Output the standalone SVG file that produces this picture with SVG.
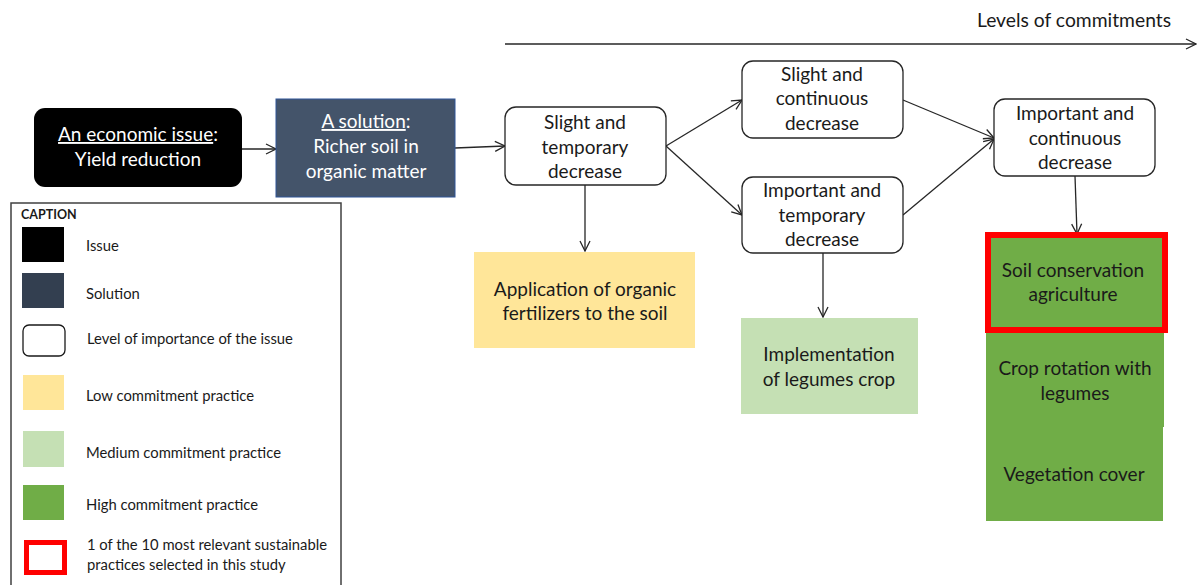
<svg xmlns="http://www.w3.org/2000/svg" width="1197" height="585" viewBox="0 0 1197 585">
  <style>
    text { font-family: Lato, "Open Sans", "Liberation Sans", sans-serif; fill: #1a1a1a; }
    .t { font-size: 19px; text-anchor: middle; }
    .w { fill: #ffffff; }
    .cap { font-size: 14.8px; fill: #1a1a1a; }
    .lvl { fill: #ffffff; stroke: #262626; stroke-width: 1.3; }
    .conn { fill: none; stroke: #262626; stroke-width: 1.3; marker-end: url(#arr); }
    .u { text-decoration: underline; }
  </style>
  <defs>
    <marker id="arr" viewBox="0 0 12 12" refX="11" refY="6" markerWidth="12" markerHeight="12" markerUnits="userSpaceOnUse" orient="auto">
      <path d="M1,1 L11,6 L1,11" fill="none" stroke="#262626" stroke-width="1.3"/>
    </marker>
  </defs>
  <rect width="1197" height="585" fill="#ffffff"/>

  <!-- commitment axis -->
  <g id="axis">
    <text x="1074" y="27" style="font-size:19.3px;text-anchor:middle">Levels of commitments</text>
    <line x1="505" y1="44" x2="1196" y2="44" class="conn"/>
  </g>

  <!-- connectors -->
  <g id="connectors">
    <line x1="242" y1="149" x2="276" y2="149" class="conn"/>
    <line x1="455" y1="148" x2="505" y2="146" class="conn"/>
    <line x1="666" y1="146" x2="742" y2="100" class="conn"/>
    <line x1="666" y1="146" x2="742" y2="215" class="conn"/>
    <line x1="903" y1="100" x2="994" y2="138" class="conn"/>
    <line x1="903" y1="215" x2="994" y2="139" class="conn"/>
    <line x1="585" y1="185" x2="585" y2="251" class="conn"/>
    <line x1="823" y1="253" x2="823" y2="317" class="conn"/>
    <line x1="1075" y1="176" x2="1077" y2="234" class="conn"/>
  </g>

  <g id="issue">
    <rect x="34" y="108" width="208" height="79" rx="11" fill="#000000"/>
    <text x="138" y="141" class="t w"><tspan class="u">An economic issue</tspan>:</text>
    <text x="138" y="166" class="t w">Yield reduction</text>
  </g>

  <g id="solution">
    <rect x="276" y="99" width="179" height="98" fill="#44546A" stroke="#2F5597" stroke-width="1"/>
    <text x="366" y="128" class="t w"><tspan class="u">A solution</tspan>:</text>
    <text x="366" y="153" class="t w">Richer soil in</text>
    <text x="366" y="178" class="t w">organic matter</text>
  </g>

  <g id="slight-temporary">
    <rect x="505" y="107" width="161" height="78" rx="11" class="lvl"/>
    <text x="585" y="129" class="t">Slight and</text>
    <text x="585" y="154" class="t">temporary</text>
    <text x="585" y="178" class="t">decrease</text>
  </g>

  <g id="slight-continuous">
    <rect x="742" y="61" width="161" height="77" rx="11" class="lvl"/>
    <text x="822" y="81" class="t">Slight and</text>
    <text x="822" y="105" class="t">continuous</text>
    <text x="822" y="130" class="t">decrease</text>
  </g>

  <g id="important-temporary">
    <rect x="742" y="177" width="161" height="76" rx="11" class="lvl"/>
    <text x="822" y="197" class="t">Important and</text>
    <text x="822" y="222" class="t">temporary</text>
    <text x="822" y="246" class="t">decrease</text>
  </g>

  <g id="important-continuous">
    <rect x="994" y="99" width="161" height="77" rx="11" class="lvl"/>
    <text x="1075" y="120" class="t">Important and</text>
    <text x="1075" y="145" class="t">continuous</text>
    <text x="1075" y="169" class="t">decrease</text>
  </g>

  <g id="organic-fertilizers">
    <rect x="474" y="252" width="221" height="96" fill="#FFE699"/>
    <text x="585" y="296" class="t">Application of organic</text>
    <text x="585" y="320" class="t">fertilizers to the soil</text>
  </g>

  <g id="legumes-crop">
    <rect x="741" y="318" width="177" height="96" fill="#C5E0B4"/>
    <text x="829" y="361" class="t">Implementation</text>
    <text x="829" y="386" class="t">of legumes crop</text>
  </g>

  <g id="vegetation-cover">
    <rect x="986" y="427" width="177" height="94" fill="#70AD47"/>
    <text x="1074" y="481" class="t">Vegetation cover</text>
  </g>

  <g id="crop-rotation">
    <rect x="986" y="330" width="178" height="97" fill="#70AD47"/>
    <text x="1075" y="375" class="t">Crop rotation with</text>
    <text x="1075" y="400" class="t">legumes</text>
  </g>

  <g id="soil-conservation">
    <rect x="988" y="235" width="177" height="95" fill="#70AD47" stroke="#FF0000" stroke-width="6"/>
    <text x="1073" y="277" class="t">Soil conservation</text>
    <text x="1073" y="301" class="t">agriculture</text>
  </g>

  <!-- legend -->
  <g id="caption">
    <rect x="11" y="203" width="330" height="390" fill="#ffffff" stroke="#404040" stroke-width="1.5"/>
    <text x="21" y="219" style="font-size:12.5px;font-weight:bold">CAPTION</text>
    <rect x="22" y="227" width="42" height="35" fill="#000000"/>
    <text x="86" y="251" class="cap">Issue</text>
    <rect x="22" y="273" width="42" height="35" fill="#333F50"/>
    <text x="86" y="299" class="cap">Solution</text>
    <rect x="23" y="325" width="42" height="31" rx="6" fill="#ffffff" stroke="#1a1a1a" stroke-width="1.3"/>
    <text x="87" y="344" class="cap">Level of importance of the issue</text>
    <rect x="23" y="375" width="41" height="35" fill="#FFE699"/>
    <text x="86" y="401" class="cap">Low commitment practice</text>
    <rect x="23" y="431" width="41" height="36" fill="#C5E0B4"/>
    <text x="86" y="458" class="cap">Medium commitment practice</text>
    <rect x="23" y="485" width="41" height="35" fill="#70AD47"/>
    <text x="86" y="510" class="cap">High commitment practice</text>
    <rect x="26.5" y="542.5" width="38" height="30" fill="#ffffff" stroke="#FF0000" stroke-width="5"/>
    <text x="87" y="550" class="cap">1 of the 10 most relevant sustainable</text>
    <text x="87" y="570" class="cap">practices selected in this study</text>
  </g>
</svg>
